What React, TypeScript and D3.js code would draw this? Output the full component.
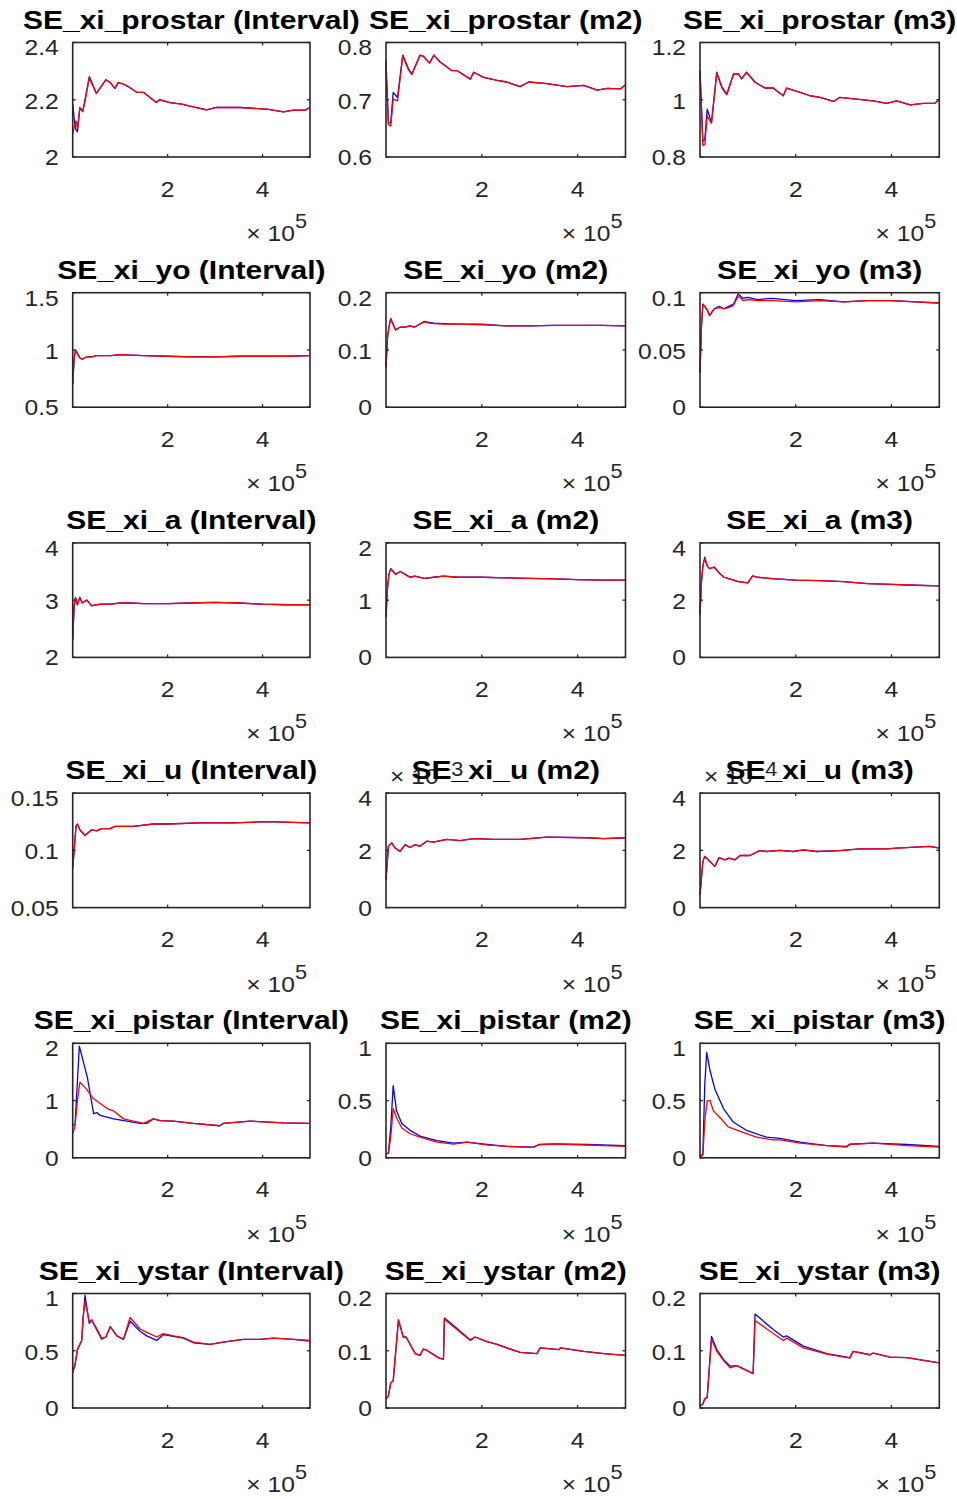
import React from "react";
import * as d3 from "d3";

// x values are in units of 1e4 (axis shows ×10^5)
// ---------- Row 1: SE_xi_prostar ----------
const prostarIntX = [0, 0.4, 0.7, 1.0, 1.5, 2.1, 2.6, 3.5, 5, 7, 7.9, 8.9, 9.6, 10.7, 11.7, 13.5, 14.9, 16.3, 17.6, 18.3, 20.5, 23, 24.7, 28.2, 30.3, 35.3, 40.9, 44.4, 46.5, 49, 50];
const prostarIntBlue = [2.186, 2.12, 2.095, 2.088, 2.173, 2.16, 2.2, 2.281, 2.222, 2.27, 2.26, 2.24, 2.26, 2.255, 2.246, 2.226, 2.226, 2.208, 2.19, 2.2, 2.19, 2.185, 2.178, 2.165, 2.173, 2.173, 2.167, 2.158, 2.164, 2.164, 2.173];
const prostarIntRed = [2.08, 2.11, 2.126, 2.1, 2.17, 2.158, 2.195, 2.275, 2.222, 2.27, 2.26, 2.24, 2.26, 2.255, 2.246, 2.226, 2.226, 2.208, 2.19, 2.2, 2.19, 2.185, 2.178, 2.165, 2.173, 2.173, 2.167, 2.158, 2.164, 2.164, 2.173];

const prostarM2X = [0, 0.5, 1, 1.5, 2.4, 3.5, 4.7, 5.4, 7.1, 7.8, 9.1, 10, 11.3, 13.7, 14.8, 17.6, 18.3, 20.4, 23.2, 25.2, 28, 29.8, 33.6, 37.8, 41.3, 44.1, 46.2, 49, 50];
const prostarM2Blue = [0.769, 0.66, 0.66, 0.713, 0.704, 0.778, 0.754, 0.745, 0.778, 0.776, 0.764, 0.778, 0.766, 0.751, 0.751, 0.736, 0.748, 0.739, 0.734, 0.731, 0.723, 0.731, 0.728, 0.723, 0.725, 0.717, 0.72, 0.719, 0.726];
const prostarM2Red = [0.754, 0.657, 0.654, 0.701, 0.698, 0.776, 0.752, 0.744, 0.777, 0.776, 0.764, 0.778, 0.766, 0.751, 0.751, 0.736, 0.748, 0.739, 0.734, 0.731, 0.723, 0.731, 0.728, 0.723, 0.725, 0.717, 0.72, 0.719, 0.726];

const prostarM3X = [0, 0.6, 1, 1.5, 2.4, 3.5, 4.6, 5.6, 7, 8, 8.7, 9.7, 11.5, 13.6, 15.3, 17.4, 18.1, 20.9, 23, 25.1, 27.9, 29.2, 32.7, 36.2, 39, 41.1, 43.9, 46.7, 49, 50];
const prostarM3Blue = [1.102, 0.855, 0.861, 0.967, 0.92, 1.096, 1.044, 1.02, 1.09, 1.09, 1.073, 1.096, 1.061, 1.041, 1.041, 1.014, 1.041, 1.026, 1.014, 1.008, 0.994, 1.008, 1.002, 0.996, 0.987, 0.996, 0.982, 0.987, 0.987, 1.0];
const prostarM3Red = [1.1, 0.841, 0.843, 0.943, 0.918, 1.092, 1.04, 1.017, 1.088, 1.09, 1.073, 1.096, 1.061, 1.041, 1.041, 1.014, 1.041, 1.026, 1.014, 1.008, 0.994, 1.008, 1.002, 0.996, 0.987, 0.996, 0.982, 0.987, 0.987, 1.0];

// ---------- Row 2: SE_xi_yo ----------
const yoIntX = [0, 0.3, 0.6, 1, 1.5, 2, 2.5, 3, 4, 5, 6, 8, 10, 12, 15, 20, 25, 30, 35, 40, 45, 50];
const yoIntBlue = [0.7, 0.92, 1.0, 0.97, 0.93, 0.92, 0.93, 0.94, 0.94, 0.95, 0.95, 0.95, 0.96, 0.955, 0.95, 0.945, 0.94, 0.94, 0.945, 0.945, 0.945, 0.95];
const yoIntRed = [0.7, 0.93, 1.0, 0.97, 0.93, 0.92, 0.93, 0.94, 0.94, 0.95, 0.95, 0.95, 0.96, 0.955, 0.95, 0.945, 0.94, 0.94, 0.945, 0.945, 0.945, 0.95];

const yoM2X = [0, 0.3, 0.6, 1, 1.5, 2, 3, 4, 5, 6, 7, 8, 9, 10, 12, 15, 20, 25, 30, 35, 40, 45, 50];
const yoM2Blue = [0.07, 0.12, 0.14, 0.155, 0.145, 0.135, 0.14, 0.14, 0.142, 0.14, 0.145, 0.15, 0.148, 0.147, 0.146, 0.145, 0.145, 0.142, 0.142, 0.143, 0.143, 0.143, 0.142];
const yoM2Red = [0.07, 0.12, 0.14, 0.154, 0.144, 0.135, 0.14, 0.14, 0.142, 0.14, 0.145, 0.149, 0.147, 0.146, 0.145, 0.145, 0.144, 0.142, 0.142, 0.143, 0.143, 0.143, 0.142];

const yoM3X = [0, 0.3, 0.6, 1, 1.5, 2, 3, 4, 5, 6, 7, 8, 9, 10, 12, 15, 20, 25, 30, 35, 40, 45, 50];
const yoM3Blue = [0.03, 0.07, 0.09, 0.088, 0.085, 0.08, 0.086, 0.088, 0.086, 0.088, 0.09, 0.099, 0.095, 0.096, 0.094, 0.095, 0.093, 0.094, 0.092, 0.093, 0.093, 0.092, 0.091];
const yoM3Red = [0.03, 0.07, 0.09, 0.088, 0.085, 0.08, 0.086, 0.087, 0.086, 0.087, 0.089, 0.097, 0.093, 0.094, 0.093, 0.093, 0.092, 0.093, 0.092, 0.093, 0.093, 0.092, 0.091];

// ---------- Row 3: SE_xi_a ----------
const aIntX = [0, 0.3, 0.6, 1, 1.5, 2, 2.5, 3, 4, 5, 6, 8, 10, 12, 15, 20, 25, 30, 35, 40, 45, 50];
const aIntBlue = [2.3, 2.9, 3.05, 2.92, 3.05, 2.95, 2.98, 3.0, 2.9, 2.92, 2.93, 2.93, 2.95, 2.95, 2.94, 2.94, 2.95, 2.96, 2.95, 2.93, 2.92, 2.92];
const aIntRed = [2.3, 2.9, 3.05, 2.92, 3.05, 2.95, 2.98, 3.0, 2.9, 2.92, 2.93, 2.93, 2.95, 2.95, 2.94, 2.94, 2.95, 2.96, 2.95, 2.93, 2.92, 2.92];

const aM2X = [0, 0.3, 0.6, 1, 1.5, 2, 3, 4, 5, 6, 8, 10, 12, 15, 20, 25, 30, 35, 40, 45, 50];
const aM2Blue = [0.7, 1.2, 1.45, 1.55, 1.5, 1.45, 1.5, 1.45, 1.4, 1.42, 1.38, 1.4, 1.42, 1.4, 1.4, 1.39, 1.38, 1.37, 1.36, 1.35, 1.35];
const aM2Red = [0.7, 1.2, 1.45, 1.55, 1.5, 1.45, 1.5, 1.45, 1.4, 1.42, 1.38, 1.4, 1.42, 1.4, 1.4, 1.39, 1.38, 1.37, 1.36, 1.35, 1.35];

const aM3X = [0, 0.3, 0.6, 1, 1.5, 2, 3, 4, 5, 6, 8, 10, 11, 12, 15, 20, 25, 30, 35, 40, 45, 50];
const aM3Blue = [1.5, 2.6, 3.2, 3.5, 3.2, 3.1, 3.15, 2.95, 2.8, 2.75, 2.65, 2.6, 2.85, 2.8, 2.75, 2.7, 2.68, 2.65, 2.58, 2.55, 2.52, 2.5];
const aM3Red = [1.5, 2.6, 3.2, 3.45, 3.2, 3.1, 3.15, 2.95, 2.8, 2.75, 2.65, 2.6, 2.85, 2.8, 2.75, 2.7, 2.68, 2.65, 2.58, 2.55, 2.52, 2.5];

// ---------- Row 4: SE_xi_u ----------
const uIntX = [0, 0.7, 1, 1.5, 2.6, 4, 5, 6.1, 7.9, 8.9, 12.8, 17, 19.8, 26.8, 33.8, 40.9, 50];
const uIntBlue = [0.0844, 0.121, 0.123, 0.118, 0.113, 0.118, 0.117, 0.119, 0.119, 0.121, 0.121, 0.123, 0.123, 0.124, 0.124, 0.125, 0.124];
const uIntRed = [0.0844, 0.121, 0.123, 0.118, 0.113, 0.118, 0.117, 0.119, 0.119, 0.121, 0.121, 0.123, 0.123, 0.124, 0.124, 0.125, 0.124];

// values in units of 1e-3
const uM2X = [0, 0.5, 1.2, 1.9, 2.9, 4, 5, 6.1, 7.1, 8.5, 9.9, 12.7, 15.5, 18.3, 22.5, 28, 33.6, 42, 45.5, 50];
const uM2Blue = [0.96, 2.14, 2.26, 2.08, 1.96, 2.2, 2.1, 2.2, 2.14, 2.32, 2.29, 2.38, 2.34, 2.41, 2.38, 2.38, 2.46, 2.44, 2.41, 2.44];
const uM2Red = [0.96, 2.14, 2.26, 2.08, 1.96, 2.2, 2.1, 2.2, 2.14, 2.32, 2.29, 2.38, 2.34, 2.41, 2.38, 2.38, 2.46, 2.44, 2.41, 2.44];

// values in units of 1e-4
const uM3X = [0, 0.6, 1, 1.7, 3.1, 4, 5.2, 6.1, 7.3, 8.4, 10.4, 12.5, 13.9, 16.7, 19.5, 21.6, 24.4, 29.2, 33.4, 39, 41.1, 48, 50];
const uM3Blue = [0.44, 1.61, 1.79, 1.67, 1.44, 1.75, 1.67, 1.73, 1.67, 1.82, 1.82, 1.99, 1.96, 2.0, 1.96, 2.02, 1.96, 1.99, 2.05, 2.05, 2.08, 2.14, 2.08];
const uM3Red = [0.44, 1.61, 1.79, 1.67, 1.44, 1.75, 1.67, 1.73, 1.67, 1.82, 1.82, 1.99, 1.96, 2.0, 1.96, 2.02, 1.96, 1.99, 2.05, 2.05, 2.08, 2.14, 2.08];

// ---------- Row 5: SE_xi_pistar ----------
const pistarIntBlueX = [0, 0.5, 1, 1.4, 2.2, 3.1, 3.7, 4.4, 5.1, 5.8, 7.2, 8.6, 11.4, 14.2, 15.6, 17, 18.4, 21.2, 25.4, 31, 31.7, 37.4, 44.4, 50];
const pistarIntBlue = [0.56, 0.59, 1.34, 1.95, 1.69, 1.4, 1.11, 0.77, 0.79, 0.74, 0.71, 0.68, 0.64, 0.6, 0.6, 0.68, 0.65, 0.64, 0.6, 0.56, 0.6, 0.64, 0.61, 0.6];
const pistarIntRedX = [0, 0.5, 1, 1.5, 2.9, 4.4, 5.8, 7.5, 8.6, 10.7, 12.8, 14.9, 17, 18.4, 21.2, 25.4, 31, 31.7, 37.4, 44.4, 50];
const pistarIntRed = [0.42, 0.56, 1.0, 1.32, 1.2, 1.03, 0.95, 0.85, 0.82, 0.68, 0.64, 0.6, 0.68, 0.65, 0.64, 0.6, 0.56, 0.6, 0.64, 0.61, 0.6];

const pistarM2X = [0, 0.5, 1, 1.5, 2.2, 3.3, 5, 7.1, 10.6, 14.1, 16.9, 21.1, 25.2, 30.8, 31.9, 35, 42, 50];
const pistarM2Blue = [0.035, 0.04, 0.27, 0.63, 0.41, 0.3, 0.24, 0.19, 0.15, 0.128, 0.136, 0.116, 0.1, 0.093, 0.116, 0.122, 0.116, 0.107];
const pistarM2Red = [0.035, 0.04, 0.18, 0.43, 0.35, 0.26, 0.21, 0.18, 0.136, 0.12, 0.136, 0.113, 0.099, 0.091, 0.114, 0.12, 0.112, 0.099];

const pistarM3BlueX = [0, 0.6, 1, 1.4, 2.1, 3.1, 4.9, 7, 9.7, 13.9, 16.7, 20.9, 26.5, 30.6, 31.3, 36.2, 43.2, 50];
const pistarM3Blue = [0.01, 0.035, 0.64, 0.92, 0.76, 0.6, 0.43, 0.31, 0.24, 0.18, 0.17, 0.136, 0.107, 0.099, 0.12, 0.128, 0.116, 0.1];
const pistarM3RedX = [0, 0.6, 1, 1.5, 2.1, 2.8, 4.2, 5.9, 8.4, 11.8, 15.3, 16.7, 20.9, 26.5, 30.6, 31.3, 36.2, 43.2, 50];
const pistarM3Red = [0.01, 0.02, 0.32, 0.5, 0.5, 0.41, 0.35, 0.27, 0.23, 0.18, 0.157, 0.157, 0.128, 0.107, 0.093, 0.116, 0.128, 0.107, 0.093];

// ---------- Row 6: SE_xi_ystar ----------
const ystarIntX = [0, 0.5, 1, 1.9, 2.2, 2.6, 3.1, 3.5, 4, 5.1, 6.1, 7, 7.9, 9.3, 10.7, 12.1, 14.2, 15.6, 17.7, 19.1, 21.2, 23.3, 25.4, 28.9, 32.4, 36, 39.5, 42.3, 46.5, 50];
const ystarIntBlue = [0.31, 0.38, 0.51, 0.59, 0.79, 0.985, 0.84, 0.74, 0.77, 0.68, 0.6, 0.62, 0.71, 0.63, 0.6, 0.76, 0.67, 0.63, 0.59, 0.64, 0.625, 0.61, 0.57, 0.555, 0.58, 0.6, 0.6, 0.61, 0.6, 0.585];
const ystarIntRed = [0.31, 0.38, 0.51, 0.59, 0.79, 0.93, 0.84, 0.75, 0.77, 0.69, 0.61, 0.62, 0.71, 0.63, 0.6, 0.79, 0.69, 0.66, 0.62, 0.65, 0.63, 0.615, 0.575, 0.555, 0.58, 0.6, 0.6, 0.61, 0.6, 0.59];

const ystarM2X = [0, 0.5, 1, 1.5, 2.6, 3.6, 4.2, 6.1, 7.1, 7.8, 8.5, 10.9, 12, 12.2, 14.1, 17.6, 18.6, 21.1, 23.2, 28, 31.5, 32.2, 36.1, 36.4, 41.3, 45.5, 50];
const ystarM2Blue = [0.016, 0.021, 0.044, 0.047, 0.154, 0.124, 0.124, 0.095, 0.092, 0.103, 0.101, 0.088, 0.085, 0.157, 0.144, 0.119, 0.124, 0.116, 0.111, 0.097, 0.095, 0.105, 0.102, 0.105, 0.099, 0.095, 0.092];
const ystarM2Red = [0.016, 0.021, 0.044, 0.047, 0.154, 0.124, 0.124, 0.095, 0.092, 0.103, 0.101, 0.088, 0.085, 0.155, 0.142, 0.118, 0.124, 0.116, 0.111, 0.097, 0.095, 0.105, 0.102, 0.105, 0.099, 0.095, 0.092];

const ystarM3X = [0, 0.6, 1, 1.5, 2.4, 3.5, 4.9, 6.3, 7.7, 11.1, 11.5, 15.3, 17.4, 18.1, 21.6, 26.5, 31.3, 32, 35.5, 36.2, 39.7, 43.2, 50];
const ystarM3Blue = [0.003, 0.007, 0.016, 0.018, 0.125, 0.102, 0.085, 0.073, 0.074, 0.06, 0.164, 0.137, 0.124, 0.126, 0.108, 0.095, 0.088, 0.099, 0.093, 0.096, 0.089, 0.088, 0.079];
const ystarM3Red = [0.003, 0.007, 0.016, 0.018, 0.12, 0.099, 0.083, 0.07, 0.074, 0.06, 0.153, 0.13, 0.118, 0.122, 0.105, 0.094, 0.087, 0.099, 0.093, 0.096, 0.089, 0.088, 0.079];

// ---------- Axis settings ----------
const titles = [
  "SE_xi_prostar (Interval)", "SE_xi_prostar (m2)", "SE_xi_prostar (m3)",
  "SE_xi_yo (Interval)", "SE_xi_yo (m2)", "SE_xi_yo (m3)",
  "SE_xi_a (Interval)", "SE_xi_a (m2)", "SE_xi_a (m3)",
  "SE_xi_u (Interval)", "SE_xi_u (m2)", "SE_xi_u (m3)",
  "SE_xi_pistar (Interval)", "SE_xi_pistar (m2)", "SE_xi_pistar (m3)",
  "SE_xi_ystar (Interval)", "SE_xi_ystar (m2)", "SE_xi_ystar (m3)",
];
const yTicks: number[][] = [
  [2, 2.2, 2.4], [0.6, 0.7, 0.8], [0.8, 1, 1.2],
  [0.5, 1, 1.5], [0, 0.1, 0.2], [0, 0.05, 0.1],
  [2, 3, 4], [0, 1, 2], [0, 2, 4],
  [0.05, 0.1, 0.15], [0, 2, 4], [0, 2, 4],
  [0, 1, 2], [0, 0.5, 1], [0, 0.5, 1],
  [0, 0.5, 1], [0, 0.1, 0.2], [0, 0.1, 0.2],
];
const yExponents: (string | null)[] = [
  null, null, null, null, null, null, null, null, null,
  null, "-3", "-4", null, null, null, null, null, null,
];
const xTicks = [20, 40];
const xTickLabels = ["2", "4"];
const xExponent = "5";

const seriesX = [
  [prostarIntX, prostarIntX], [prostarM2X, prostarM2X], [prostarM3X, prostarM3X],
  [yoIntX, yoIntX], [yoM2X, yoM2X], [yoM3X, yoM3X],
  [aIntX, aIntX], [aM2X, aM2X], [aM3X, aM3X],
  [uIntX, uIntX], [uM2X, uM2X], [uM3X, uM3X],
  [pistarIntBlueX, pistarIntRedX], [pistarM2X, pistarM2X], [pistarM3BlueX, pistarM3RedX],
  [ystarIntX, ystarIntX], [ystarM2X, ystarM2X], [ystarM3X, ystarM3X],
];
const seriesY = [
  [prostarIntBlue, prostarIntRed], [prostarM2Blue, prostarM2Red], [prostarM3Blue, prostarM3Red],
  [yoIntBlue, yoIntRed], [yoM2Blue, yoM2Red], [yoM3Blue, yoM3Red],
  [aIntBlue, aIntRed], [aM2Blue, aM2Red], [aM3Blue, aM3Red],
  [uIntBlue, uIntRed], [uM2Blue, uM2Red], [uM3Blue, uM3Red],
  [pistarIntBlue, pistarIntRed], [pistarM2Blue, pistarM2Red], [pistarM3Blue, pistarM3Red],
  [ystarIntBlue, ystarIntRed], [ystarM2Blue, ystarM2Red], [ystarM3Blue, ystarM3Red],
];
const seriesColors = ["#0000ff", "#ff0000"];

// ---------- Layout ----------
const W = 957;
const H = 1499;
const colLeft = [72.7, 386, 700];
const colWidth = [237.3, 239.5, 239.3];
const rowTop0 = 42.5;
const rowPitch = 250.2;
const axH = 114.5;
const FONT = "'Liberation Sans', Arial, Helvetica, sans-serif";
const TICK_FS = 22;
const TICK_SX = 1.12;
const TITLE_FS = 25;
const TITLE_SX = 1.2;
const AX_COLOR = "#262626";

function Txt({ x, y, sx, anchor, size, weight, fill, children, dy }: any) {
  return (
    <text
      transform={`translate(${x},${y}) scale(${sx},1)`}
      textAnchor={anchor}
      fontSize={size}
      fontWeight={weight || "normal"}
      fill={fill}
      fontFamily={FONT}
      dy={dy}
    >
      {children}
    </text>
  );
}

function Panel({ idx }: { idx: number }) {
  const r = Math.floor(idx / 3);
  const c = idx % 3;
  const left = colLeft[c];
  const w = colWidth[c];
  const top = rowTop0 + r * rowPitch;
  const ticks = yTicks[idx];
  const x = d3.scaleLinear().domain([0, 50]).range([left, left + w]);
  const y = d3.scaleLinear().domain([ticks[0], ticks[2]]).range([top + axH, top]);
  const tl = 3;
  const exp = yExponents[idx];
  return (
    <g>
      {seriesY[idx].map((ys, s) => {
        const xs = seriesX[idx][s];
        const pts: [number, number][] = ys.map((v, i) => [xs[i], v]);
        const line = d3.line<[number, number]>().x((d) => x(d[0])).y((d) => y(d[1]));
        return (
          <path key={s} d={line(pts) || ""} fill="none" stroke={seriesColors[s]} strokeWidth={1.3} strokeLinejoin="round" />
        );
      })}
      <rect x={left} y={top} width={w} height={axH} fill="none" stroke={AX_COLOR} strokeWidth={1.6} />
      {xTicks.map((t, i) => (
        <g key={"xt" + i}>
          <line x1={x(t)} x2={x(t)} y1={top + axH} y2={top + axH - tl} stroke={AX_COLOR} strokeWidth={1.3} />
          <line x1={x(t)} x2={x(t)} y1={top} y2={top + tl} stroke={AX_COLOR} strokeWidth={1.3} />
          <Txt x={x(t)} y={top + axH + 39.5} sx={TICK_SX} anchor="middle" size={TICK_FS} fill={AX_COLOR}>
            {xTickLabels[i]}
          </Txt>
        </g>
      ))}
      {ticks.map((t, i) => (
        <g key={"yt" + i}>
          <line x1={left} x2={left + tl} y1={y(t)} y2={y(t)} stroke={AX_COLOR} strokeWidth={1.3} />
          <line x1={left + w} x2={left + w - tl} y1={y(t)} y2={y(t)} stroke={AX_COLOR} strokeWidth={1.3} />
          <Txt x={left - 14} y={y(t) + (i === 2 ? 5 : i === 1 ? 1 : 0)} dy="0.36em" sx={TICK_SX} anchor="end" size={TICK_FS} fill={AX_COLOR}>
            {String(t)}
          </Txt>
        </g>
      ))}
      <Txt x={left + w - 3} y={top + axH + 84} sx={TICK_SX} anchor="end" size={TICK_FS} fill={AX_COLOR}>
        <tspan>{"\u00d7 10"}</tspan>
        <tspan dy={-13} fontSize={TICK_FS * 0.88}>{xExponent}</tspan>
      </Txt>
      {exp && (
        <Txt x={left + 4} y={top - 9} sx={TICK_SX} anchor="start" size={TICK_FS} fill={AX_COLOR}>
          <tspan>{"\u00d7 10"}</tspan>
          <tspan dy={-8} fontSize={TICK_FS * 0.88}>{exp.replace("-", "\u2212")}</tspan>
        </Txt>
      )}
      <Txt x={left + w / 2} y={top - 14} sx={TITLE_SX} anchor="middle" size={TITLE_FS} weight="bold" fill="#000">
        {titles[idx]}
      </Txt>
    </g>
  );
}

export default function App() {
  return (
    <svg width={W} height={H} style={{ position: "absolute", left: 0, top: 0, background: "#fff" }}>
      <rect x={0} y={0} width={W} height={H} fill="#fff" />
      {titles.map((_, i) => (
        <Panel key={i} idx={i} />
      ))}
    </svg>
  );
}
